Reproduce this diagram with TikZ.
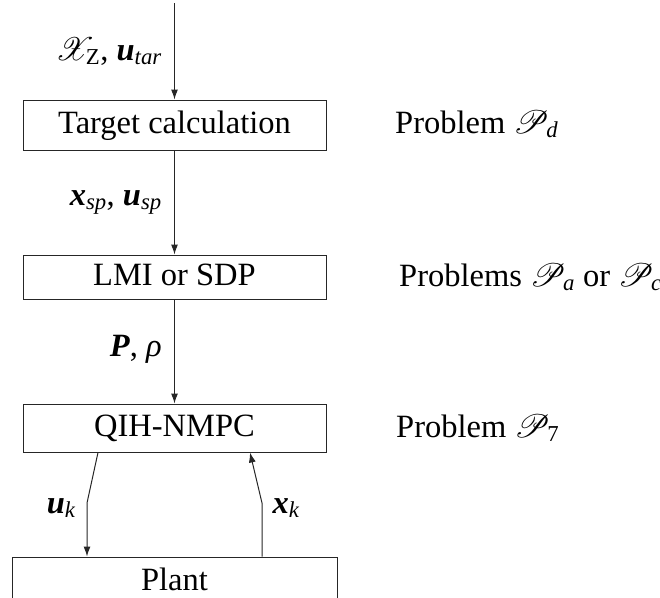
\documentclass[tikz,border=0pt]{standalone}
\usepackage{fix-cm}
\usepackage{amsmath}
\DeclareFontFamily{U}{rsfs}{\skewchar\font127 }
\DeclareFontShape{U}{rsfs}{m}{n}{<-6>rsfs5<6-8>rsfs7<8->rsfs10}{}
\usepackage{mathrsfs}
\usepackage{fontspec}
\setmainfont{Liberation Serif}
\usetikzlibrary{arrows.meta}
\newcommand{\bv}[1]{\textbf{\textit{#1}}}
\newcommand{\ti}[1]{\textit{#1}}
\begin{document}
\begin{tikzpicture}[x=1pt,y=-1pt,
  every node/.style={font=\fontsize{32.5}{40}\selectfont},
  blk/.style={draw=black!85, line width=1pt, minimum width=303pt, text height=23pt, text depth=7pt, inner sep=0pt},
  arr/.style={draw=black!85, line width=1pt, -{Latex[length=10pt,width=7pt]}},
  lbl/.style={inner sep=0pt, anchor=base east},
  prb/.style={inner sep=0pt, anchor=base west}]
\useasboundingbox (0,0) rectangle (660,597);
% blocks
\node[blk, minimum height=50pt] (t) at (174.5,125) {Target calculation};
\node[blk, minimum height=44pt] (l) at (174.5,277) {LMI or SDP};
\node[blk, minimum height=48pt] (q) at (174.5,428) {QIH-NMPC};
\node[blk, minimum width=325pt, minimum height=50pt] (p) at (174.5,582) {Plant};
% connectors
\coordinate (in) at (174.5,3);
\draw[arr] (in) -- (t.north);
\draw[arr] (t.south) -- (l.north);
\draw[arr] (l.south) -- (q.north);
\coordinate (uk) at (87,503);
\coordinate (xk) at (262,503);
\draw[arr] ([xshift=-76.5pt]q.south) -- (uk) -- (uk |- p.north);
\draw[arr] (xk |- p.north) -- (xk) -- ([xshift=75.5pt]q.south);
% labels
\node[lbl] (l1) at (162,60) {$\mathscr{X}_{\text{Z}}$, \bv{u}$_{\text{\ti{tar}}}$};
\node[lbl] (l2) at (162,205) {\bv{x}$_{\text{\ti{sp}}}$, \bv{u}$_{\text{\ti{sp}}}$};
\node[lbl] (l3) at (162,356) {\bv{P}, \ti{ρ}};
\node[lbl] (l4) at (76,513) {\bv{u}$_{\text{\ti{k}}}$};
\node[lbl] (l5) at (300,513) {\bv{x}$_{\text{\ti{k}}}$};
% problems
\node[prb] (pd) at (395,133) {Problem $\mathscr{P}_{\text{\ti{d}}}$};
\node[prb] (pac) at (399,286) {Problems $\mathscr{P}_{\text{\ti{a}}}$ or $\mathscr{P}_{\text{\ti{c}}}$};
\node[prb] (p7) at (396,437) {Problem $\mathscr{P}_{\text{7}}$};
\end{tikzpicture}
\end{document}
